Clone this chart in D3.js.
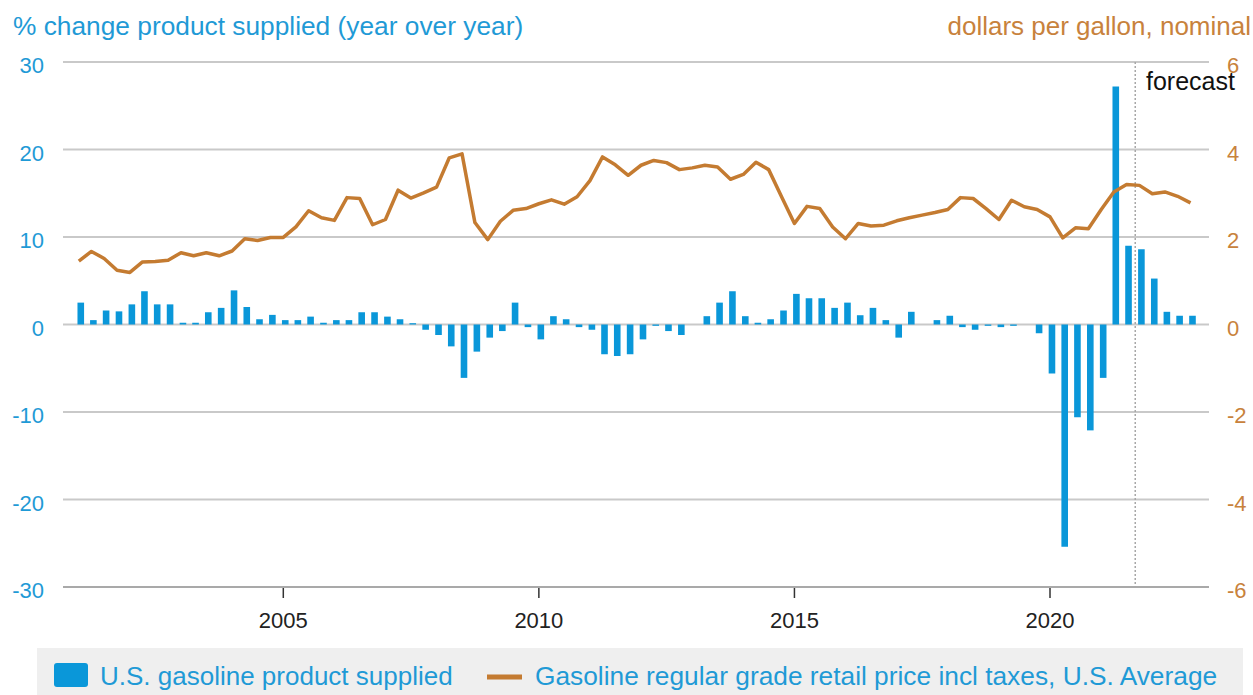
<!DOCTYPE html>
<html>
<head>
<meta charset="utf-8">
<script src="https://cdn.jsdelivr.net/npm/d3@7"></script>
<style>
  body { margin: 0; background: #fff; }
  text { font-family: "Liberation Sans", Arial, sans-serif; }
</style>
</head>
<body>
<div id="chart"></div>
<script>
// quarterly, 2001Q1 .. 2022Q4
var quarters = d3.timeMonth.range(new Date(2001, 0, 1), new Date(2023, 0, 1), 3);

// % change product supplied, year over year
var supplyChange = [
  2.5, 0.5, 1.6, 1.5,
  2.3, 3.8, 2.3, 2.3,
  0.2, 0.2, 1.4, 1.9,
  3.9, 2.0, 0.6, 1.1,
  0.5, 0.5, 0.9, 0.2,
  0.5, 0.5, 1.4, 1.4,
  0.9, 0.6, 0.15, -0.6,
  -1.2, -2.5, -6.1, -3.1,
  -1.5, -0.75, 2.5, -0.3,
  -1.7, 0.95, 0.6, -0.3,
  -0.6, -3.4, -3.6, -3.4,
  -1.7, -0.15, -0.75, -1.2,
  0, 0.95, 2.5, 3.8,
  0.95, 0.2, 0.6, 1.6,
  3.5, 3.0, 3.0, 1.9,
  2.5, 1.06, 1.9, 0.5,
  -1.5, 1.45, 0, 0.5,
  1.0, -0.3, -0.6, -0.15,
  -0.3, -0.15, 0, -1.0,
  -5.6, -25.4, -10.6, -12.1,
  -6.1, 27.2, 9.0, 8.6,
  5.25, 1.45, 1.0, 1.0
];

// retail price, dollars per gallon
var gasPrice = [
  1.45, 1.67, 1.51, 1.24,
  1.19, 1.43, 1.44, 1.47,
  1.64, 1.57, 1.64, 1.57,
  1.68, 1.96, 1.92, 1.99,
  1.99, 2.23, 2.60, 2.44,
  2.38, 2.90, 2.88, 2.28,
  2.40, 3.07, 2.89, 3.01,
  3.14, 3.81, 3.90, 2.33,
  1.94, 2.36, 2.61, 2.65,
  2.76, 2.85, 2.75, 2.92,
  3.29, 3.83, 3.65, 3.41,
  3.64, 3.75, 3.70, 3.54,
  3.58, 3.64, 3.60, 3.32,
  3.43, 3.71, 3.54, 2.92,
  2.31, 2.70, 2.65, 2.23,
  1.96, 2.31, 2.25, 2.27,
  2.37, 2.44, 2.50, 2.56,
  2.63, 2.90, 2.88, 2.65,
  2.40, 2.84, 2.69, 2.63,
  2.46, 1.98, 2.21, 2.19,
  2.63, 3.03, 3.20, 3.18,
  2.99, 3.03, 2.93, 2.78
];

var leftTicks = [30, 20, 10, 0, -10, -20, -30];
var rightTicks = [6, 4, 2, 0, -2, -4, -6];
var yearTicks = [2005, 2010, 2015, 2020];
var forecastStart = new Date(2021, 8, 1);

var blue = "#0a97d9", blueText = "#1f9ad6";
var orange = "#c47b31", orangeText = "#c8823c";

var W = 1253, H = 695;
var svg = d3.select("#chart").append("svg")
  .attr("width", W).attr("height", H);

var x = d3.scaleTime()
  .domain([new Date(2000, 8, 10), new Date(2023, 1, 10)])
  .range([63, 1209]);
var yL = d3.scaleLinear().domain([-30, 30]).range([587, 62]);
var yR = d3.scaleLinear().domain([-6, 6]).range([587, 62]);

// gridlines
svg.append("g").selectAll("line").data(leftTicks).join("line")
  .attr("x1", 63).attr("x2", 1209)
  .attr("y1", d => yL(d)).attr("y2", d => yL(d))
  .attr("stroke", d => d == -30 ? "#a9a9a9" : "#c9c9c9")
  .attr("stroke-width", 2);

// x ticks
svg.append("g").selectAll("line").data(yearTicks).join("line")
  .attr("x1", d => x(new Date(d, 0, 1))).attr("x2", d => x(new Date(d, 0, 1)))
  .attr("y1", 588).attr("y2", 598)
  .attr("stroke", "#333").attr("stroke-width", 1.5);
svg.append("g").selectAll("text").data(yearTicks).join("text")
  .attr("x", d => x(new Date(d, 0, 1))).attr("y", 628)
  .attr("text-anchor", "middle")
  .attr("font-size", 22).attr("fill", "#222")
  .text(d => d);

// forecast marker
svg.append("line")
  .attr("x1", x(forecastStart)).attr("x2", x(forecastStart))
  .attr("y1", 62).attr("y2", 587)
  .attr("stroke", "#a8a8a8").attr("stroke-width", 1.5)
  .attr("stroke-dasharray", "2,2");
svg.append("text")
  .attr("x", 1146).attr("y", 90)
  .attr("font-size", 25).attr("fill", "#111")
  .text("forecast");

// bars
svg.append("g").selectAll("rect").data(supplyChange).join("rect")
  .attr("x", (d, i) => x(d3.timeDay.offset(quarters[i], 14)) - 3.3)
  .attr("width", 6.6)
  .attr("y", d => yL(Math.max(0, d)))
  .attr("height", d => Math.abs(yL(d) - yL(0)))
  .attr("fill", blue);

// price line
var line = d3.line()
  .x((d, i) => x(quarters[i]))
  .y(d => yR(d));
svg.append("path")
  .datum(gasPrice)
  .attr("d", line)
  .attr("fill", "none")
  .attr("stroke", orange)
  .attr("stroke-width", 3.5)
  .attr("stroke-linejoin", "round");

// axis labels
svg.append("g").selectAll("text").data(leftTicks).join("text")
  .attr("x", 44).attr("y", d => yL(d) + 11)
  .attr("text-anchor", "end")
  .attr("font-size", 22).attr("fill", blueText)
  .text(d => d);
svg.append("g").selectAll("text").data(rightTicks).join("text")
  .attr("x", 1227).attr("y", d => yR(d) + 11)
  .attr("font-size", 22).attr("fill", orangeText)
  .text(d => d);

svg.append("text")
  .attr("x", 13).attr("y", 35)
  .attr("font-size", 26.3).attr("fill", blueText)
  .text("% change product supplied (year over year)");
svg.append("text")
  .attr("x", 1251).attr("y", 35)
  .attr("text-anchor", "end")
  .attr("font-size", 26).attr("fill", orangeText)
  .text("dollars per gallon, nominal");

// legend
var legend = svg.append("g");
legend.append("rect")
  .attr("x", 37).attr("y", 648).attr("width", 1206).attr("height", 47)
  .attr("fill", "#efefef");
legend.append("rect")
  .attr("x", 54).attr("y", 663).attr("width", 34).attr("height", 24)
  .attr("rx", 3).attr("fill", blue);
legend.append("text")
  .attr("x", 100).attr("y", 685)
  .attr("font-size", 26).attr("fill", blueText)
  .text("U.S. gasoline product supplied");
legend.append("line")
  .attr("x1", 487).attr("x2", 522).attr("y1", 677).attr("y2", 677)
  .attr("stroke", orange).attr("stroke-width", 5);
legend.append("text")
  .attr("x", 535).attr("y", 685)
  .attr("font-size", 26.3).attr("fill", blueText)
  .text("Gasoline regular grade retail price incl taxes, U.S. Average");
</script>
</body>
</html>
